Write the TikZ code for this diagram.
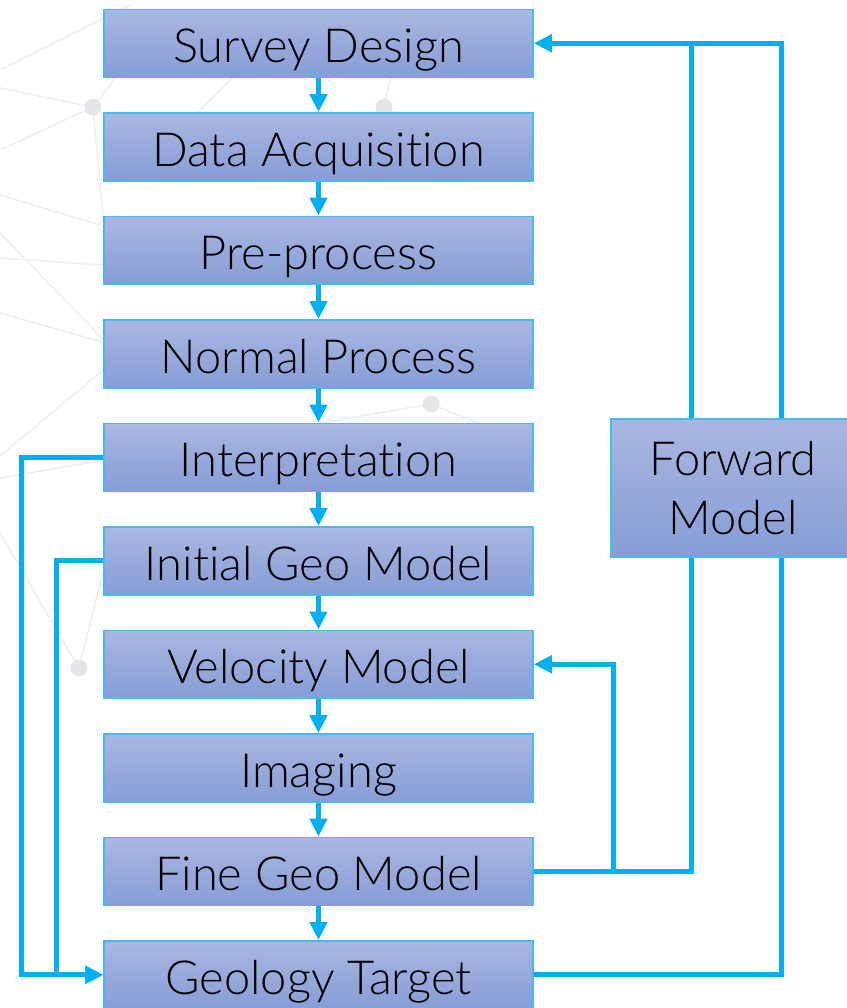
\documentclass[tikz,border=0pt]{standalone}
\usepackage{fontspec}
\IfFontExistsTF{Lato Light}{\setmainfont{Lato Light}[Ligatures={NoCommon,NoDiscretionary,NoContextual}]}{\setmainfont{Lato}[Ligatures={NoCommon,NoDiscretionary,NoContextual}]}
\usepackage{tikz}
\usetikzlibrary{arrows.meta}

\definecolor{flowblue}{RGB}{0,176,240}
\definecolor{boxtop}{RGB}{170,183,225}
\definecolor{boxbot}{RGB}{134,157,214}
\definecolor{boxline}{RGB}{70,185,240}
\definecolor{netgray}{RGB}{240,240,240}
\definecolor{dotgray}{RGB}{229,230,233}

\tikzset{
	stage/.style={shape=rectangle, draw=boxline, line width=1.5pt, top color=boxtop, bottom color=boxbot,
		minimum width=429pt, minimum height=68pt, inner sep=0pt,
		font=\fontsize{47}{59}\selectfont, text height=39pt, text depth=0pt},
	flow/.style={draw=flowblue, line width=5pt},
	go/.style={flow, -{Triangle[length=18pt,width=17pt]}},
	net/.style={draw=netgray, line width=1.8pt},
}

\begin{document}
\begin{tikzpicture}[x=1pt,y=-1pt]
	\useasboundingbox (0,0) rectangle (846,1008);

	% faint network behind the chart
	\draw[net] (0,70) -- (130,5);
	\draw[net] (0,88) -- (93,107);
	\draw[net] (0,150) -- (93,107);
	\draw[net] (93,107) -- (106,250);
	\draw[net] (93,107) -- (125,65);
	\draw[net] (240,70) -- (180,130);
	\draw[net] (384,107) -- (393,65);
	\draw[net] (0,195) -- (130,234);
	\draw[net] (0,258) -- (130,267);
	\draw[net] (0,233) -- (125,362);
	\draw[net] (0,313) -- (130,350);
	\draw[net] (0,456) -- (125,352);
	\draw[net] (0,478) -- (431,404);
	\draw[net] (431,404) -- (520,440);
	\draw[net] (0,533) -- (79,668);
	\draw[net] (79,668) -- (112,535);
	\fill[dotgray] (93,107) circle (8.5pt);
	\fill[dotgray] (384,107) circle (8.5pt);
	\fill[dotgray] (431,404) circle (8.5pt);
	\fill[dotgray] (79,668) circle (8.5pt);

	\node[stage] (survey)   at (318.5, 43.3) {Survey Design};
	\node[stage] (acquire)  at (318.5,146.8) {Data Acquisition};
	\node[stage] (preproc)  at (318.5,250.3) {Pre-process};
	\node[stage] (normal)   at (318.5,353.8) {Normal Process};
	\node[stage] (interp)   at (318.5,457.3) {Interpretation};
	\node[stage] (initgeo)  at (318.5,560.8) {Initial Geo Model};
	\node[stage] (velocity) at (318.5,664.3) {Velocity Model};
	\node[stage] (imaging)  at (318.5,767.8) {Imaging};
	\node[stage] (finegeo)  at (318.5,871.3) {Fine Geo Model};
	\node[stage] (target)   at (318.5,974.8) {Geology Target};
	\node[stage, minimum width=244pt, minimum height=138pt, align=center,
		text height=, text depth=] (forward) at (733,488) {Forward\\Model};

	\coordinate (fl) at ([xshift=81pt]forward.north west);
	\coordinate (fr) at ([xshift=171pt]forward.north west);
	\coordinate (bl) at ([xshift=81pt]forward.south west);
	\coordinate (br) at ([xshift=171pt]forward.south west);

	\foreach \a/\b in {survey/acquire, acquire/preproc, preproc/normal, normal/interp,
		interp/initgeo, initgeo/velocity, velocity/imaging, imaging/finegeo, finegeo/target}
		\draw[go] (\a) -- (\b);

	\draw[go] (interp.west) -- ++(-82,0) |- (target.west);
	\draw[go] (initgeo.west) -- ++(-47,0) |- (target.west);
	\draw[go] (finegeo.east) -- ++(80,0) |- (velocity.east);
	\draw[flow] (finegeo.east) -| (bl);
	\draw[flow] (target.east) -| (br);
	\draw[flow] (fr) |- (survey.east -| fl);
	\draw[go] (fl) |- (survey.east);
\end{tikzpicture}
\end{document}
